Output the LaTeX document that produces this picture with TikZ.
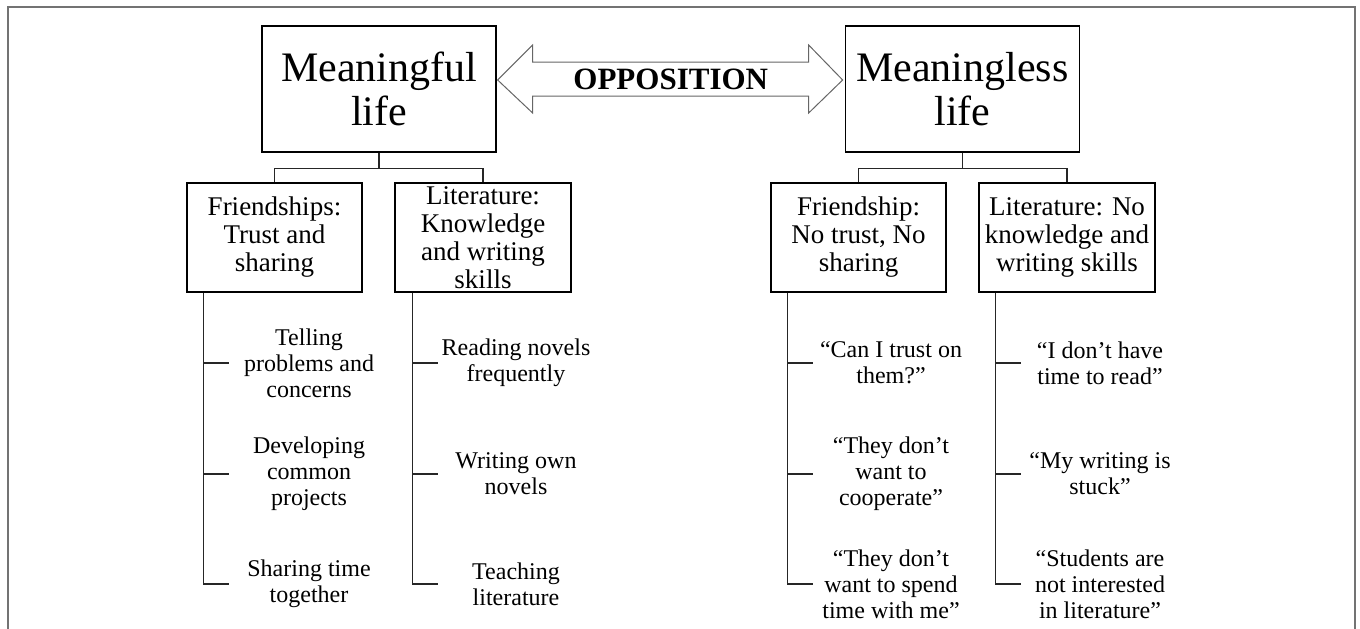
\documentclass[tikz,border=0pt]{standalone}
\usepackage{fontspec}
\setmainfont{Liberation Serif}
\usetikzlibrary{calc}
\begin{document}
\begin{tikzpicture}[x=1pt,y=-1pt,
  bigbox/.style={draw, line width=1.3pt, inner sep=0pt, minimum width=234pt, minimum height=126pt,
    align=center, font=\fontsize{42}{44}\selectfont},
  catbox/.style={draw, line width=1.3pt, inner sep=0pt, minimum width=175pt, minimum height=109pt,
    align=center, font=\fontsize{27}{28}\selectfont},
  leaf/.style={inner sep=0pt, align=center, font=\fontsize{24}{26}\selectfont},
  conn/.style={line width=1.3pt, draw=black!85}
]
\useasboundingbox (0,0) rectangle (1360,629);
\draw[line width=2pt, draw=black!55] (8,629) -- (8,7) -- (1355,7) -- (1355,629);

% top boxes
\node[bigbox] (ml) at (379,89) {Meaningful\\life};
\node[bigbox] (mls) at (962.5,89) {Meaningless\\life};

% opposition double arrow
\draw[line width=1pt, draw=black!60, fill=white]
  ($(ml.east)+(1,-9)$) coordinate (tipL)
  -- ++(35,-35) -- ++(0,17) -- ++(276,0) -- ++(0,-17) -- ++(34,35)
  -- ++(-34,33) -- ++(0,-17) -- ++(-276,0) -- ++(0,17) -- cycle;
\node[font=\fontsize{31}{33}\selectfont\bfseries] (opp) at ($(ml.east)!0.5!(mls.west)+(0,-10)$) {OPPOSITION};

% category boxes
\node[catbox] (f1) at (274.5,237.5) {Friendships:\\Trust and\\sharing};
\node[catbox, minimum width=176pt] (l1) at (483,237.5) {Literature:\\Knowledge\\and writing\\skills};
\node[catbox] (f2) at (858.5,237.5) {Friendship:\\No trust, No\\sharing};
\node[catbox, minimum width=176pt] (l2) at (1067,237.5) {Literature: No\\knowledge and\\writing skills};

\draw[conn] (ml.south) -- ++(0,16) -| (f1.north);
\draw[conn] (ml.south) ++(0,16) -| (l1.north);
\draw[conn] (mls.south) -- ++(0,16) -| (f2.north);
\draw[conn] (mls.south) ++(0,16) -| (l2.north);

% leaves
\node[leaf] (a1) at (309,363) {Telling\\problems and\\concerns};
\node[leaf] (a2) at (309,474) {Developing\\common\\projects};
\node[leaf] (a3) at (309,584) {Sharing time\\together};
\node[leaf] (b1) at (516,363) {Reading novels\\frequently};
\node[leaf] (b2) at (516,474) {Writing own\\novels};
\node[leaf] (b3) at (516,584) {Teaching\\literature};
\node[leaf] (c1) at (891,363) {“Can I trust on\\them?”};
\node[leaf] (c2) at (891,474) {“They don’t\\want to\\cooperate”};
\node[leaf] (c3) at (891,584) {“They don’t\\want to spend\\time with me”};
\node[leaf] (d1) at (1100,363) {“I don’t have\\time to read”};
\node[leaf] (d2) at (1100,474) {“My writing is\\stuck”};
\node[leaf] (d3) at (1100,584) {“Students are\\not interested\\in literature”};

% tree lines
\draw[conn] ($(f1.south west)+(17,0)$) coordinate (fa) -- (fa |- a3) -- ++(26,0);
\draw[conn] (fa |- a1) -- ++(26,0);
\draw[conn] (fa |- a2) -- ++(26,0);
\draw[conn] ($(l1.south west)+(18,0)$) coordinate (la) -- (la |- b3) -- ++(26,0);
\draw[conn] (la |- b1) -- ++(26,0);
\draw[conn] (la |- b2) -- ++(26,0);
\draw[conn] ($(f2.south west)+(17,0)$) coordinate (fb) -- (fb |- c3) -- ++(26,0);
\draw[conn] (fb |- c1) -- ++(26,0);
\draw[conn] (fb |- c2) -- ++(26,0);
\draw[conn] ($(l2.south west)+(17,0)$) coordinate (lb) -- (lb |- d3) -- ++(26,0);
\draw[conn] (lb |- d1) -- ++(26,0);
\draw[conn] (lb |- d2) -- ++(26,0);
\end{tikzpicture}
\end{document}
